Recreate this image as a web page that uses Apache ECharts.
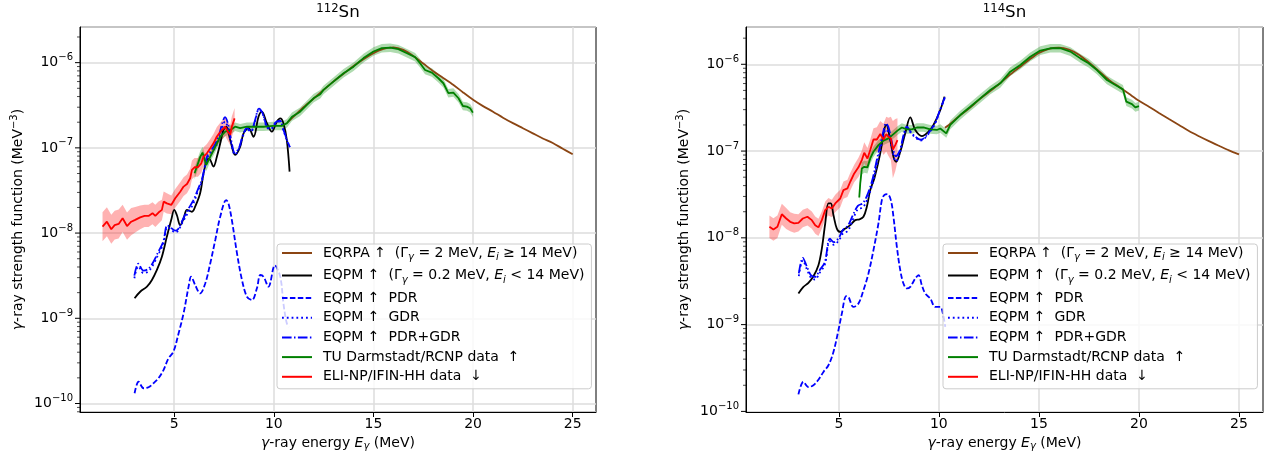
<!DOCTYPE html>
<html>
<head>
<meta charset="utf-8">
<title>Gamma-ray strength functions of 112Sn and 114Sn</title>
<script src="https://cdn.jsdelivr.net/npm/echarts@6/dist/echarts.min.js"></script>
<style>
  html, body { margin: 0; padding: 0; background: #ffffff; }
  #chart { width: 1270px; height: 459px; }
</style>
</head>
<body>
<div id="chart"></div>
<script>
// ---------------- 112Sn ----------------
const sn112EqrpaE = [10.7, 11.0, 11.5, 12.0, 12.5, 13.0, 13.5, 14.0, 14.5, 15.0, 15.5, 16.0, 16.5, 17.0, 17.5, 18.0, 18.5, 19.0, 19.5, 20.0, 20.5, 21.0, 21.5, 22.0, 22.5, 23.0, 23.5, 24.0, 24.5, 25.0];
const sn112Eqrpa = [2.00e-7, 2.34e-7, 3.02e-7, 3.80e-7, 4.79e-7, 6.03e-7, 7.41e-7, 9.12e-7, 1.10e-6, 1.29e-6, 1.45e-6, 1.51e-6, 1.41e-6, 1.20e-6, 9.77e-7, 7.94e-7, 6.61e-7, 5.50e-7, 4.47e-7, 3.67e-7, 3.09e-7, 2.66e-7, 2.26e-7, 1.95e-7, 1.70e-7, 1.48e-7, 1.29e-7, 1.14e-7, 9.77e-8, 8.41e-8];

const sn112EqpmE = [3.01, 3.29, 3.63, 3.88, 4.13, 4.38, 4.63, 4.85, 5.00, 5.13, 5.30, 5.47, 5.64, 5.89, 6.05, 6.30, 6.47, 6.64, 6.75, 6.97, 7.14, 7.31, 7.47, 7.61, 7.81, 8.06, 8.31, 8.48, 8.73, 8.98, 9.23, 9.40, 9.65, 9.90, 10.15, 10.32, 10.48, 10.65, 10.79];
const sn112Eqpm = [1.72e-9, 2.05e-9, 2.35e-9, 2.82e-9, 3.69e-9, 5.28e-9, 9.08e-9, 1.43e-8, 1.87e-8, 1.63e-8, 1.24e-8, 1.49e-8, 1.87e-8, 1.78e-8, 2.04e-8, 2.93e-8, 5.01e-8, 7.24e-8, 7.41e-8, 6.03e-8, 7.89e-8, 1.13e-7, 1.62e-7, 1.77e-7, 1.24e-7, 8.26e-8, 1.03e-7, 1.48e-7, 1.70e-7, 1.35e-7, 2.32e-7, 2.66e-7, 1.95e-7, 1.55e-7, 2.03e-7, 2.22e-7, 1.95e-7, 1.24e-7, 5.26e-8];

const sn112PdrE = [3.01, 3.21, 3.46, 3.71, 3.96, 4.21, 4.46, 4.71, 4.96, 5.22, 5.47, 5.72, 5.85, 6.05, 6.30, 6.56, 6.81, 7.06, 7.31, 7.61, 7.72, 7.89, 8.15, 8.40, 8.65, 8.90, 9.15, 9.32, 9.48, 9.73, 10.05, 10.32, 10.48, 10.65, 10.77];
const sn112Pdr = [1.32e-10, 1.80e-10, 1.51e-10, 1.55e-10, 1.73e-10, 1.98e-10, 2.47e-10, 3.39e-10, 4.06e-10, 6.67e-10, 1.15e-9, 2.35e-9, 3.08e-9, 2.46e-9, 1.96e-9, 2.58e-9, 4.43e-9, 8.30e-9, 1.56e-8, 2.44e-8, 2.24e-8, 1.43e-8, 5.79e-9, 2.82e-9, 1.79e-9, 1.64e-9, 2.25e-9, 3.22e-9, 3.08e-9, 2.35e-9, 4.17e-9, 3.08e-9, 1.50e-9, 8.73e-10, 7.96e-10];

const sn112GdrE = [3.0, 3.2, 3.45, 3.7, 3.95, 4.2, 4.45, 4.65, 4.8, 5.05, 5.2, 5.45, 5.7, 5.95, 6.2, 6.4, 6.65, 6.85, 7.05, 7.25, 7.4, 7.55, 7.7, 7.85, 8.05, 8.25, 8.45, 8.65, 8.85, 9.05, 9.25, 9.45, 9.65, 9.85, 10.1, 10.3, 10.5, 10.65, 10.8];
const sn112Gdr = [2.95e-9, 4.07e-9, 3.39e-9, 3.55e-9, 4.27e-9, 5.62e-9, 7.41e-9, 1.17e-8, 1.12e-8, 1.02e-8, 1.07e-8, 1.38e-8, 1.74e-8, 2.19e-8, 3.16e-8, 4.17e-8, 7.59e-8, 8.71e-8, 1.00e-7, 1.26e-7, 1.70e-7, 2.04e-7, 1.70e-7, 1.15e-7, 8.32e-8, 9.77e-8, 1.38e-7, 1.66e-7, 1.55e-7, 2.04e-7, 2.82e-7, 2.45e-7, 1.74e-7, 1.66e-7, 1.95e-7, 2.04e-7, 1.55e-7, 1.23e-7, 1.02e-7];
const sn112PdrGdr = [3.16e-9, 4.37e-9, 3.63e-9, 3.80e-9, 4.57e-9, 6.03e-9, 7.94e-9, 1.23e-8, 1.17e-8, 1.07e-8, 1.12e-8, 1.48e-8, 1.91e-8, 2.40e-8, 3.31e-8, 4.37e-8, 7.94e-8, 9.33e-8, 1.10e-7, 1.41e-7, 1.91e-7, 2.29e-7, 1.91e-7, 1.26e-7, 8.71e-8, 1.00e-7, 1.41e-7, 1.70e-7, 1.58e-7, 2.09e-7, 2.88e-7, 2.51e-7, 1.78e-7, 1.70e-7, 2.00e-7, 2.09e-7, 1.58e-7, 1.26e-7, 1.02e-7];

const sn112TuE = [6.02, 6.31, 6.42, 6.61, 6.81, 7.06, 7.31, 7.56, 7.81, 8.06, 8.31, 8.65, 8.98, 9.48, 9.98, 10.40, 10.66, 10.91, 11.32, 11.66, 11.99, 12.33, 12.49, 12.99, 13.50, 14.00, 14.50, 15.00, 15.42, 15.84, 16.25, 16.68, 17.09, 17.34, 17.59, 17.93, 18.26, 18.51, 18.76, 19.01, 19.27, 19.49, 19.69, 19.85, 19.99];
const sn112Tu = [5.04e-8, 7.89e-8, 8.79e-8, 6.30e-8, 7.89e-8, 1.03e-7, 1.35e-7, 1.55e-7, 1.62e-7, 1.77e-7, 1.70e-7, 1.77e-7, 1.77e-7, 1.77e-7, 1.81e-7, 1.81e-7, 1.95e-7, 2.32e-7, 2.66e-7, 3.19e-7, 3.82e-7, 4.26e-7, 4.79e-7, 5.98e-7, 7.52e-7, 8.97e-7, 1.13e-6, 1.35e-6, 1.48e-6, 1.50e-6, 1.44e-6, 1.29e-6, 1.16e-6, 9.84e-7, 8.20e-7, 7.64e-7, 6.56e-7, 5.73e-7, 4.38e-7, 4.45e-7, 3.82e-7, 3.10e-7, 3.05e-7, 2.92e-7, 2.59e-7];
// uncertainty half-width in decades
const sn112TuErr = [0.07, 0.07, 0.07, 0.07, 0.06, 0.06, 0.06, 0.05, 0.05, 0.05, 0.05, 0.05, 0.05, 0.05, 0.05, 0.05, 0.05, 0.05, 0.05, 0.05, 0.05, 0.05, 0.05, 0.05, 0.05, 0.05, 0.05, 0.05, 0.05, 0.05, 0.05, 0.05, 0.05, 0.05, 0.05, 0.05, 0.05, 0.05, 0.05, 0.05, 0.05, 0.05, 0.05, 0.05, 0.05];

const sn112EliE = [1.40, 1.62, 1.84, 2.01, 2.21, 2.41, 2.63, 2.84, 3.04, 3.29, 3.51, 3.71, 3.91, 4.05, 4.21, 4.38, 4.47, 4.63, 4.85, 5.05, 5.30, 5.47, 5.64, 5.80, 5.89, 6.02, 6.19, 6.36, 6.47, 6.64, 6.81, 6.97, 7.14, 7.26, 7.39, 7.56, 7.69, 7.81, 7.89, 8.03];
const sn112Eli = [1.19e-8, 1.36e-8, 1.11e-8, 1.24e-8, 1.28e-8, 1.49e-8, 1.21e-8, 1.36e-8, 1.43e-8, 1.53e-8, 1.59e-8, 1.59e-8, 1.71e-8, 1.59e-8, 1.74e-8, 1.87e-8, 2.34e-8, 2.23e-8, 2.14e-8, 2.56e-8, 3.06e-8, 3.51e-8, 3.77e-8, 4.40e-8, 5.51e-8, 5.92e-8, 5.92e-8, 6.59e-8, 7.89e-8, 8.63e-8, 9.89e-8, 1.13e-7, 1.36e-7, 1.48e-7, 1.62e-7, 1.77e-7, 1.55e-7, 1.42e-7, 1.77e-7, 2.22e-7];
const sn112EliErr = [0.17, 0.17, 0.17, 0.17, 0.17, 0.16, 0.16, 0.16, 0.15, 0.14, 0.13, 0.13, 0.13, 0.13, 0.13, 0.12, 0.12, 0.12, 0.11, 0.11, 0.11, 0.11, 0.11, 0.11, 0.11, 0.11, 0.11, 0.11, 0.11, 0.11, 0.11, 0.11, 0.11, 0.11, 0.11, 0.11, 0.11, 0.12, 0.12, 0.12];

// ---------------- 114Sn ----------------
const sn114EqrpaE = [10.3, 10.5, 11.0, 11.5, 12.0, 12.5, 13.0, 13.5, 14.0, 14.5, 15.0, 15.5, 16.0, 16.5, 17.0, 17.5, 18.0, 18.5, 19.0, 19.5, 20.0, 20.5, 21.0, 21.5, 22.0, 22.5, 23.0, 23.5, 24.0, 24.5, 25.0];
const sn114Eqrpa = [1.86e-7, 2.00e-7, 2.51e-7, 3.09e-7, 3.89e-7, 4.79e-7, 5.89e-7, 7.41e-7, 9.12e-7, 1.12e-6, 1.35e-6, 1.51e-6, 1.56e-6, 1.48e-6, 1.29e-6, 1.05e-6, 8.32e-7, 6.61e-7, 5.50e-7, 4.57e-7, 3.80e-7, 3.24e-7, 2.75e-7, 2.34e-7, 2.00e-7, 1.70e-7, 1.48e-7, 1.30e-7, 1.15e-7, 1.02e-7, 9.16e-8];

const sn114EqpmE = [2.98, 3.23, 3.48, 3.73, 3.98, 4.15, 4.32, 4.48, 4.60, 4.73, 4.90, 5.07, 5.32, 5.57, 5.82, 6.03, 6.23, 6.40, 6.57, 6.78, 7.07, 7.27, 7.37, 7.57, 7.73, 7.87, 8.07, 8.32, 8.57, 8.82, 9.15, 9.48, 9.73, 10.07, 10.28];
const sn114Eqpm = [2.28e-9, 2.72e-9, 3.03e-9, 3.61e-9, 4.84e-9, 7.53e-9, 1.47e-8, 2.49e-8, 2.49e-8, 1.83e-8, 1.28e-8, 1.17e-8, 1.28e-8, 1.40e-8, 1.60e-8, 1.63e-8, 1.75e-8, 2.28e-8, 3.55e-8, 4.90e-8, 9.40e-8, 1.75e-7, 2.00e-7, 1.34e-7, 8.61e-8, 7.53e-8, 9.82e-8, 1.60e-7, 2.44e-7, 1.75e-7, 1.49e-7, 1.67e-7, 2.00e-7, 2.97e-7, 4.24e-7];

const sn114PdrE = [2.98, 3.23, 3.48, 3.73, 3.98, 4.23, 4.48, 4.73, 4.98, 5.15, 5.37, 5.48, 5.73, 5.98, 6.23, 6.48, 6.73, 6.98, 7.15, 7.27, 7.43, 7.60, 7.73, 7.90, 8.07, 8.23, 8.40, 8.57, 8.82, 8.98, 9.15, 9.32, 9.57, 9.82, 10.07, 10.20, 10.32];
const sn114Pdr = [1.57e-10, 2.19e-10, 1.91e-10, 2.00e-10, 2.32e-10, 2.85e-10, 3.40e-10, 4.84e-10, 8.61e-10, 1.34e-9, 2.13e-9, 2.09e-9, 1.60e-9, 1.75e-9, 2.49e-9, 3.88e-9, 7.21e-9, 1.47e-8, 2.72e-8, 3.11e-8, 3.19e-8, 2.72e-8, 1.75e-8, 7.89e-9, 4.24e-9, 2.98e-9, 2.61e-9, 2.72e-9, 3.40e-9, 3.72e-9, 2.84e-9, 2.28e-9, 2.00e-9, 1.60e-9, 1.60e-9, 1.34e-9, 9.42e-10];

const sn114GdrE = [3.0, 3.2, 3.4, 3.6, 3.8, 4.05, 4.3, 4.55, 4.75, 5.0, 5.2, 5.45, 5.7, 5.95, 6.2, 6.45, 6.7, 6.9, 7.1, 7.25, 7.35, 7.5, 7.65, 7.85, 8.05, 8.25, 8.4, 8.6, 8.8, 9.1, 9.45, 9.8, 10.05, 10.3];
const sn114Gdr = [3.63e-9, 5.50e-9, 4.37e-9, 3.47e-9, 3.31e-9, 3.98e-9, 4.90e-9, 9.12e-9, 8.32e-9, 9.33e-9, 1.12e-8, 1.20e-8, 1.62e-8, 2.14e-8, 2.24e-8, 2.88e-8, 4.37e-8, 6.92e-8, 1.10e-7, 1.55e-7, 1.78e-7, 1.58e-7, 1.10e-7, 7.59e-8, 9.55e-8, 1.51e-7, 1.82e-7, 1.62e-7, 1.45e-7, 1.32e-7, 1.55e-7, 2.04e-7, 2.92e-7, 4.12e-7];
const sn114PdrGdr = [3.89e-9, 5.89e-9, 4.68e-9, 3.72e-9, 3.55e-9, 4.27e-9, 5.25e-9, 9.77e-9, 8.91e-9, 1.00e-8, 1.23e-8, 1.38e-8, 1.82e-8, 2.34e-8, 2.51e-8, 3.24e-8, 4.90e-8, 7.94e-8, 1.26e-7, 1.78e-7, 2.09e-7, 1.82e-7, 1.26e-7, 8.71e-8, 1.02e-7, 1.58e-7, 1.91e-7, 1.66e-7, 1.48e-7, 1.35e-7, 1.58e-7, 2.09e-7, 2.95e-7, 4.17e-7];

const sn114TuE = [6.02, 6.07, 6.15, 6.27, 6.43, 6.57, 6.73, 6.98, 7.23, 7.48, 7.73, 7.93, 8.15, 8.40, 8.65, 8.90, 9.23, 9.57, 9.90, 10.07, 10.37, 10.57, 11.07, 11.57, 12.07, 12.57, 13.07, 13.57, 14.07, 14.57, 15.07, 15.57, 16.07, 16.57, 17.07, 17.48, 17.90, 18.40, 18.82, 19.20, 19.37, 19.65, 19.82, 20.00];
const sn114Tu = [2.92e-8, 4.24e-8, 6.31e-8, 6.59e-8, 6.49e-8, 8.22e-8, 9.82e-8, 1.17e-7, 1.32e-7, 1.40e-7, 1.57e-7, 1.72e-7, 1.87e-7, 1.78e-7, 1.78e-7, 1.87e-7, 1.87e-7, 1.78e-7, 1.75e-7, 1.82e-7, 1.60e-7, 2.00e-7, 2.60e-7, 3.24e-7, 4.05e-7, 5.06e-7, 6.03e-7, 8.22e-7, 9.82e-7, 1.22e-6, 1.44e-6, 1.53e-6, 1.53e-6, 1.40e-6, 1.17e-6, 1.03e-6, 8.59e-7, 6.59e-7, 5.77e-7, 5.14e-7, 3.71e-7, 3.48e-7, 3.19e-7, 3.30e-7];
const sn114TuErr = [0.07, 0.07, 0.07, 0.07, 0.07, 0.06, 0.06, 0.06, 0.05, 0.05, 0.05, 0.05, 0.05, 0.05, 0.05, 0.05, 0.05, 0.05, 0.05, 0.05, 0.05, 0.05, 0.05, 0.05, 0.05, 0.05, 0.05, 0.05, 0.05, 0.05, 0.05, 0.05, 0.05, 0.05, 0.05, 0.05, 0.05, 0.05, 0.05, 0.05, 0.05, 0.05, 0.05, 0.05];

const sn114EliE = [1.53, 1.73, 1.93, 2.15, 2.37, 2.57, 2.77, 2.98, 3.20, 3.43, 3.65, 3.82, 3.98, 4.15, 4.32, 4.48, 4.65, 4.82, 5.07, 5.23, 5.43, 5.57, 5.77, 5.98, 6.15, 6.27, 6.43, 6.57, 6.73, 6.90, 7.07, 7.23, 7.37, 7.48, 7.60, 7.70, 7.82, 7.93];
const sn114Eli = [1.34e-8, 1.25e-8, 1.34e-8, 1.87e-8, 1.67e-8, 1.53e-8, 1.47e-8, 1.49e-8, 1.67e-8, 1.75e-8, 1.60e-8, 1.40e-8, 1.32e-8, 1.60e-8, 2.09e-8, 2.28e-8, 2.18e-8, 2.49e-8, 2.84e-8, 3.55e-8, 3.71e-8, 4.43e-8, 5.52e-8, 6.49e-8, 7.87e-8, 9.57e-8, 8.22e-8, 1.03e-7, 1.36e-7, 1.36e-7, 1.57e-7, 1.36e-7, 1.57e-7, 1.46e-7, 1.40e-7, 1.04e-7, 1.17e-7, 1.34e-7];
const sn114EliErr = [0.13, 0.13, 0.13, 0.12, 0.12, 0.11, 0.11, 0.10, 0.10, 0.10, 0.10, 0.10, 0.10, 0.10, 0.10, 0.10, 0.10, 0.10, 0.10, 0.10, 0.10, 0.10, 0.10, 0.11, 0.11, 0.12, 0.12, 0.12, 0.13, 0.14, 0.15, 0.18, 0.20, 0.22, 0.25, 0.33, 0.30, 0.25];

// ---------------- axes ----------------
const xTicks = [5, 10, 15, 20, 25];
const yDecades = [1e-11, 1e-10, 1e-9, 1e-8, 1e-7, 1e-6];
const yMinorSteps = [2, 3, 4, 5, 6, 7, 8, 9];
const panelTitles = ['112', '114'];
const xRanges = [[0.27, 26.17], [0.36, 26.2]];
const yRanges = [[7.95e-11, 2.62e-6], [9.84e-11, 2.69e-6]];
const grids = [
  { left: 80, top: 27, width: 516, height: 385 },
  { left: 746, top: 27, width: 517, height: 385 }
];

const FONT = 'DejaVu Sans';
const INK = '#000000';
const BROWN = '#8b4513';
const BLUE = '#0000ff';
const GREEN = '#008000';
const RED = '#ff0000';

const NAMES = {
  eqrpa: 'EQRPA ↑  (Γγ = 2 MeV, Ei ≥ 14 MeV)',
  eqpm: 'EQPM ↑  (Γγ = 0.2 MeV, Ei < 14 MeV)',
  pdr: 'EQPM ↑  PDR',
  gdr: 'EQPM ↑  GDR',
  sum: 'EQPM ↑  PDR+GDR',
  tu: 'TU Darmstadt/RCNP data  ↑',
  eli: 'ELI-NP/IFIN-HH data  ↓'
};
const legendRich = {};
legendRich[NAMES.eqrpa] = '{m|EQRPA ↑  (Γ}{sub|γ}{m| = 2 MeV, }{it|E}{sub|i}{m| ≥ 14 MeV)}';
legendRich[NAMES.eqpm] = '{m|EQPM ↑  (Γ}{sub|γ}{m| = 0.2 MeV, }{it|E}{sub|i}{m| < 14 MeV)}';

function pairs(xs, ys) { return xs.map((x, i) => [x, ys[i]]); }

function curve(name, gi, xs, ys, color, dash, smooth) {
  return {
    type: 'line', name: name, xAxisIndex: gi, yAxisIndex: gi,
    data: pairs(xs, ys), symbol: 'none', showSymbol: false,
    smooth: smooth, silent: true, animation: false,
    itemStyle: { color: color },
    lineStyle: { color: color, width: 1.8, type: dash || 'solid' }
  };
}

// shaded uncertainty band drawn through the axis scales
function band(gi, xs, ys, err, fill) {
  return {
    type: 'custom', xAxisIndex: gi, yAxisIndex: gi, silent: true, animation: false,
    clip: true,
    data: [[xs[0], ys[0]]],
    renderItem: function (params, api) {
      const up = xs.map((x, i) => api.coord([x, ys[i] * Math.pow(10, err[i])]));
      const lo = xs.map((x, i) => api.coord([x, ys[i] / Math.pow(10, err[i])])).reverse();
      return { type: 'polygon', shape: { points: up.concat(lo) }, style: { fill: fill } };
    }
  };
}

// major and minor ticks of a logarithmic y axis
function logTicks(gi) {
  const items = [];
  yDecades.forEach(d => {
    items.push([xRanges[gi][0], d, 5, 1]);
    yMinorSteps.forEach(m => items.push([xRanges[gi][0], m * d, 3, 0.7]));
  });
  return {
    type: 'custom', xAxisIndex: gi, yAxisIndex: gi, silent: true, animation: false,
    clip: false, data: items,
    renderItem: function (params, api) {
      const cs = params.coordSys;
      const p = api.coord([api.value(0), api.value(1)]);
      if (p[1] < cs.y - 0.5 || p[1] > cs.y + cs.height + 0.5) return null;
      const len = api.value(2);
      return {
        type: 'line',
        shape: { x1: cs.x - len, y1: p[1], x2: cs.x, y2: p[1] },
        style: { stroke: INK, lineWidth: api.value(3) }
      };
    }
  };
}

function xAxisFor(gi) {
  return {
    type: 'value', gridIndex: gi, min: xRanges[gi][0], max: xRanges[gi][1],
    axisLine: { show: true, onZero: false, lineStyle: { color: INK, width: 1 } },
    axisTick: { show: true, length: 5, customValues: xTicks, lineStyle: { color: INK, width: 1 } },
    axisLabel: {
      customValues: xTicks, margin: 5, color: INK, fontFamily: FONT, fontSize: 14, lineHeight: 14
    },
    splitLine: { show: true, lineStyle: { color: '#dddddd', width: 1.5 } },
    name: '{it|γ}{t|-ray energy }{it|E}{sub|γ}{t| (MeV)}',
    nameLocation: 'middle', nameGap: 21,
    nameTextStyle: {
      color: INK, fontFamily: FONT, fontSize: 14,
      rich: {
        t: { fontFamily: FONT, fontSize: 14, lineHeight: 18, color: INK },
        it: { fontFamily: FONT, fontSize: 14, lineHeight: 18, fontStyle: 'italic', color: INK },
        sub: { fontFamily: FONT, fontSize: 10, lineHeight: 10, verticalAlign: 'bottom', fontStyle: 'italic', color: INK }
      }
    }
  };
}

function yAxisFor(gi) {
  return {
    type: 'log', logBase: 10, gridIndex: gi, min: yRanges[gi][0], max: yRanges[gi][1],
    axisLine: { show: true, onZero: false, lineStyle: { color: INK, width: 1 } },
    axisTick: { show: false },
    minorTick: { show: false },
    axisLabel: {
      margin: 7, showMinLabel: false, showMaxLabel: false,
      formatter: function (v) {
        const p = Math.round(Math.log10(v));
        return '{b|10}{s|−' + (-p) + '}';
      },
      rich: {
        b: { fontFamily: FONT, fontSize: 14, lineHeight: 20, color: INK },
        s: { fontFamily: FONT, fontSize: 10, lineHeight: 12, verticalAlign: 'top', color: INK }
      }
    },
    splitLine: { show: true, lineStyle: { color: '#dddddd', width: 1.5 } },
    name: '{it|γ}{t|-ray strength function (MeV}{s|−3}{t|)}',
    nameLocation: 'middle', nameGap: 53,
    nameTextStyle: {
      color: INK, fontFamily: FONT, fontSize: 14,
      rich: {
        t: { fontFamily: FONT, fontSize: 14, lineHeight: 18, color: INK },
        it: { fontFamily: FONT, fontSize: 14, lineHeight: 18, fontStyle: 'italic', color: INK },
        s: { fontFamily: FONT, fontSize: 10, lineHeight: 10, verticalAlign: 'top', color: INK }
      }
    }
  };
}

function legendFor(left) {
  return {
    left: left, top: 244, orient: 'vertical',
    data: [NAMES.eqrpa, NAMES.eqpm, NAMES.pdr, NAMES.gdr, NAMES.sum, NAMES.tu, NAMES.eli],
    itemWidth: 30, itemHeight: 14, itemGap: 5.7,
    padding: [2, 7, 5, 4],
    backgroundColor: 'rgba(255,255,255,0.8)',
    borderColor: '#cccccc', borderWidth: 1, borderRadius: 3,
    selectedMode: false,
    // line handles only, no marker in the middle
    itemStyle: { opacity: 0 },
    formatter: function (name) { return legendRich[name] || ('{t|' + name + '}'); },
    textStyle: {
      fontFamily: FONT, fontSize: 14, color: INK, padding: [0, 0, 0, 6],
      rich: {
        t: { fontFamily: FONT, fontSize: 14, lineHeight: 16, color: INK },
        m: { fontFamily: FONT, fontSize: 14, lineHeight: 19.6, color: INK },
        it: { fontFamily: FONT, fontSize: 14, lineHeight: 19.6, fontStyle: 'italic', color: INK },
        sub: { fontFamily: FONT, fontSize: 10, lineHeight: 10, verticalAlign: 'bottom', fontStyle: 'italic', color: INK }
      }
    }
  };
}

function panelSeries(gi, d) {
  return [
    curve(NAMES.eqrpa, gi, d.eqrpaE, d.eqrpa, BROWN, 'solid', 0.3),
    curve(NAMES.eqpm, gi, d.eqpmE, d.eqpm, INK, 'solid', 0.35),
    curve(NAMES.pdr, gi, d.pdrE, d.pdr, BLUE, [5.5, 2.4], 0.35),
    curve(NAMES.gdr, gi, d.gdrE, d.gdr, BLUE, [1.8, 3], 0.35),
    curve(NAMES.sum, gi, d.gdrE, d.sum, BLUE, [9.6, 2.4, 1.5, 2.4], 0.35),
    band(gi, d.tuE, d.tu, d.tuErr, 'rgba(44,160,44,0.38)'),
    curve(NAMES.tu, gi, d.tuE, d.tu, GREEN, 'solid', false),
    band(gi, d.eliE, d.eli, d.eliErr, 'rgba(255,0,0,0.3)'),
    curve(NAMES.eli, gi, d.eliE, d.eli, RED, 'solid', false),
    logTicks(gi)
  ];
}

const panel112 = {
  eqrpaE: sn112EqrpaE, eqrpa: sn112Eqrpa, eqpmE: sn112EqpmE, eqpm: sn112Eqpm,
  pdrE: sn112PdrE, pdr: sn112Pdr, gdrE: sn112GdrE, gdr: sn112Gdr, sum: sn112PdrGdr,
  tuE: sn112TuE, tu: sn112Tu, tuErr: sn112TuErr, eliE: sn112EliE, eli: sn112Eli, eliErr: sn112EliErr
};
const panel114 = {
  eqrpaE: sn114EqrpaE, eqrpa: sn114Eqrpa, eqpmE: sn114EqpmE, eqpm: sn114Eqpm,
  pdrE: sn114PdrE, pdr: sn114Pdr, gdrE: sn114GdrE, gdr: sn114Gdr, sum: sn114PdrGdr,
  tuE: sn114TuE, tu: sn114Tu, tuErr: sn114TuErr, eliE: sn114EliE, eli: sn114Eli, eliErr: sn114EliErr
};

const titleRich = {
  b: { fontFamily: FONT, fontSize: 16.7, lineHeight: 20, fill: INK },
  s: { fontFamily: FONT, fontSize: 11.7, lineHeight: 12, verticalAlign: 'top', fill: INK }
};

const chart = echarts.init(document.getElementById('chart'), null, { renderer: 'canvas' });
chart.setOption({
  animation: false,
  backgroundColor: '#ffffff',
  grid: grids.map(g => Object.assign({ show: true, borderColor: INK, borderWidth: 1, backgroundColor: 'transparent', containLabel: false }, g)),
  xAxis: [xAxisFor(0), xAxisFor(1)],
  yAxis: [yAxisFor(0), yAxisFor(1)],
  legend: [legendFor(277), legendFor(943)],
  graphic: grids.map((g, i) => ({
    type: 'text', x: g.left + g.width / 2, y: 12.9, silent: true,
    style: {
      text: '{s|' + panelTitles[i] + '}{b|Sn}', rich: titleRich,
      align: 'center', verticalAlign: 'middle', fill: INK, font: '16.7px "DejaVu Sans"'
    }
  })),
  series: panelSeries(0, panel112).concat(panelSeries(1, panel114))
});
</script>
</body>
</html>
